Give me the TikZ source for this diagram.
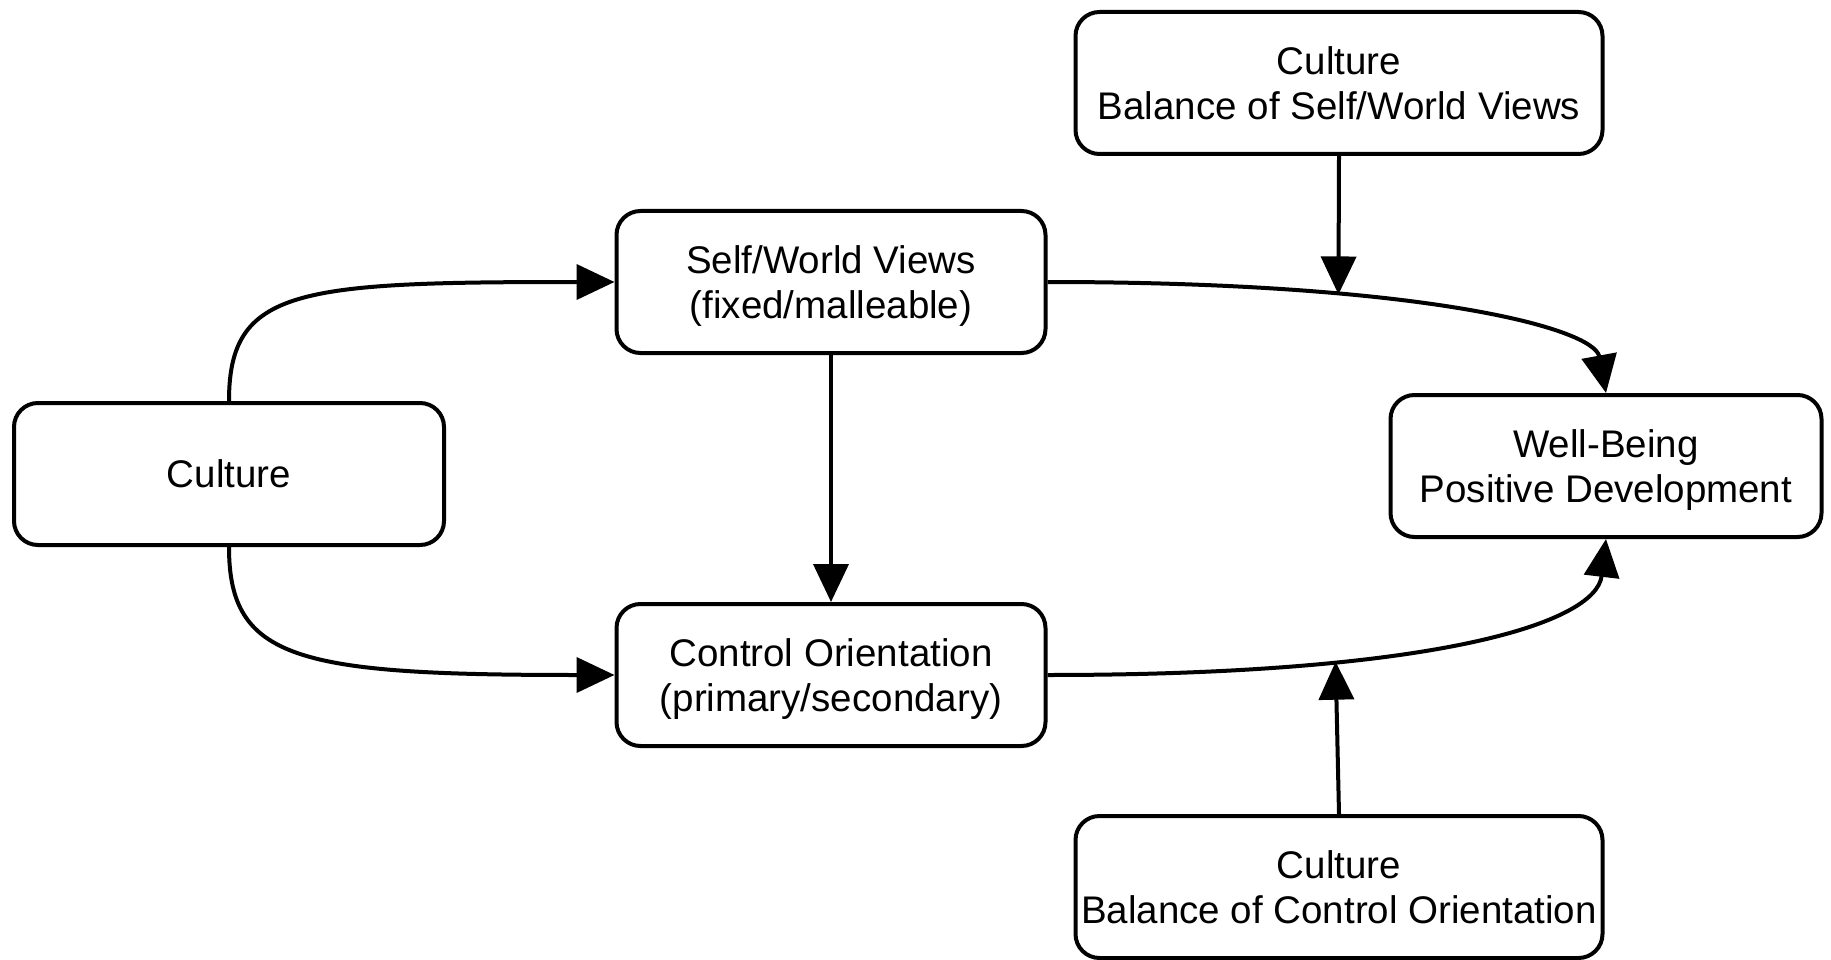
\documentclass[tikz,border=0pt]{standalone}
\usepackage{fontspec}
\setmainfont{Liberation Sans}
\usetikzlibrary{arrows.meta}
\tikzset{
  box/.style={draw=black, line width=4pt, rounded corners=24pt, fill=white,
    align=center, inner xsep=2pt, inner ysep=0pt, text depth=0pt,
    minimum height=142pt, font=\fontsize{38.5}{45.5}\selectfont},
  conn/.style={line width=4pt, -{Triangle[length=38pt,width=35pt]}},
}
\begin{document}
\begin{tikzpicture}[x=1pt,y=-1pt]
\useasboundingbox (0,0) rectangle (1831,960);
\node[box, minimum width=430pt] (cult) at (229,474) {Culture};
\node[box, minimum width=429pt] (sw) at (831,282) {Self/World Views\\(fixed/malleable)};
\node[box, minimum width=429pt] (co) at (831,675) {Control Orientation\\(primary/secondary)};
\node[box, minimum width=527pt] (tr) at (1339,83) {Culture\\Balance of Self/World Views};
\node[box, minimum width=431pt] (wb) at (1606,466) {Well-Being\\Positive Development};
\node[box, minimum width=527pt] (br) at (1339,887) {Culture\\Balance of Control Orientation};

\draw[conn] (cult.north) .. controls +(0,-113) and +(-317,0) .. (sw.west);
\draw[conn] (cult.south) .. controls +(0,113) and +(-317,0) .. (co.west);
\draw[conn] (sw.south) -- (co.north);
\draw[conn] (sw.east) .. controls +(374,0) and +(-12,-65) .. coordinate[pos=0.31] (m1) (wb.north);
\draw[conn] (co.east) .. controls +(384,0) and +(-10,85) .. coordinate[pos=0.3] (m2) (wb.south);
\draw[conn] (tr.south) -- (m1);
\draw[conn] (br.north) -- (m2);
\end{tikzpicture}
\end{document}
